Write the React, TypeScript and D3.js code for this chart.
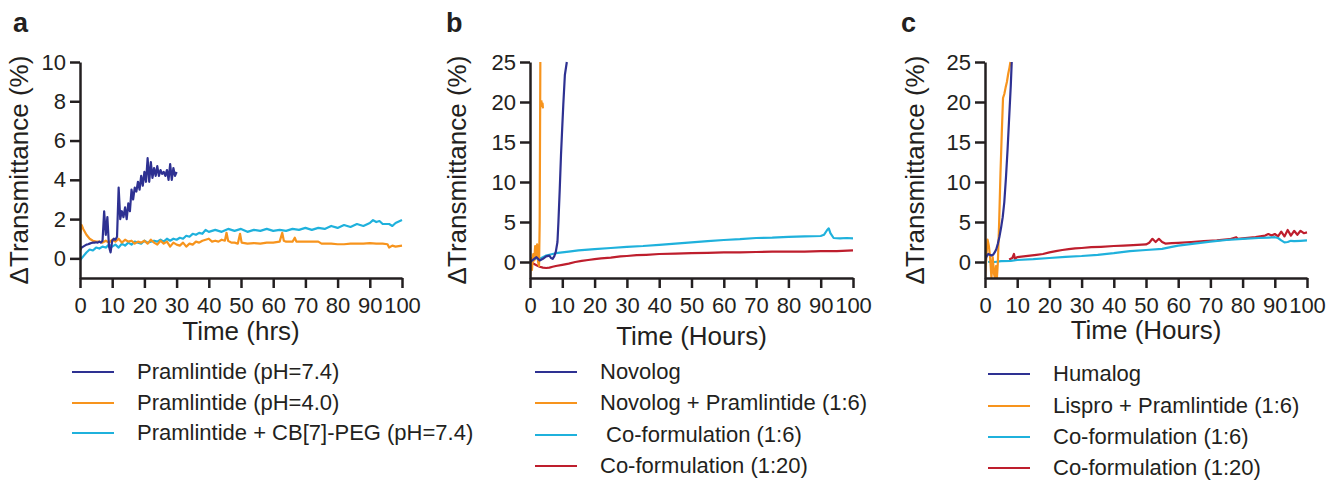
import React, { useRef, useEffect } from 'react';
import { select, scaleLinear, axisBottom, axisLeft, line } from 'd3';

const NAVY = '#2e3192';
const ORANGE = '#f7941d';
const CYAN = '#1fb1dc';
const RED = '#be1e2d';
const INK = '#231f20';

const timeTicks = [0, 10, 20, 30, 40, 50, 60, 70, 80, 90, 100];
const ticksA = [0, 2, 4, 6, 8, 10];
const ticksBC = [0, 5, 10, 15, 20, 25];

const legendA = ['Pramlintide (pH=7.4)', 'Pramlintide (pH=4.0)', 'Pramlintide + CB[7]-PEG (pH=7.4)'];
const legendB = ['Novolog', 'Novolog + Pramlintide (1:6)', ' Co-formulation (1:6)', 'Co-formulation (1:20)'];
const legendC = ['Humalog', 'Lispro + Pramlintide (1:6)', 'Co-formulation (1:6)', 'Co-formulation (1:20)'];

// panel a: [hours, delta transmittance %]
const pramA74 = [
  [0, 0.4], [0.5, 0.55], [1, 0.6], [1.5, 0.65], [2, 0.7], [2.5, 0.72], [3, 0.75], [3.5, 0.78], [4, 0.8], [4.5, 0.8],
  [5, 0.82], [5.5, 0.8], [6, 0.85], [6.5, 0.8], [7, 0.9], [7.5, 2.4], [8, 1.2], [8.5, 2.1], [9, 0.6], [9.5, 0.3],
  [10, 0.9], [10.5, 1.0], [11, 0.95], [11.5, 1.1], [12, 3.6], [12.5, 2.0], [13, 2.4], [13.5, 2.1], [14, 2.6], [14.5, 2.0],
  [15, 2.8], [15.5, 2.4], [16, 3.5], [16.5, 3.0], [17, 3.6], [17.5, 3.4], [18, 3.9], [18.5, 3.5], [19, 4.2], [19.5, 3.7],
  [20, 4.4], [20.5, 3.9], [21, 5.1], [21.5, 3.9], [22, 4.9], [22.5, 4.1], [23, 4.6], [23.5, 4.2], [24, 4.7], [24.5, 4.2],
  [25, 4.5], [25.5, 4.3], [26, 4.4], [26.5, 4.2], [27, 4.5], [27.5, 4.0], [28, 4.8], [28.5, 4.0], [29, 4.6], [29.5, 4.2], [30, 4.4],
];
const pramA40 = [
  [0, 1.2], [0.5, 1.7], [1, 1.5], [2, 1.2], [3, 1.0], [4, 0.9], [5, 0.85], [6, 0.85], [7, 0.8], [8, 0.9], [9, 0.8],
  [10, 0.95], [11, 0.85], [12, 1.0], [13, 0.8], [14, 0.95], [15, 0.85], [16, 0.9], [17, 0.75], [18, 0.85], [19, 0.8],
  [20, 0.9], [21, 0.75], [22, 0.95], [23, 0.8], [24, 0.7], [25, 0.9], [26, 0.75], [27, 0.85], [28, 0.6], [29, 0.8],
  [30, 0.7], [31, 0.65], [32, 0.8], [33, 0.6], [34, 0.75], [35, 0.7], [36, 0.85], [37, 0.8], [38, 0.9], [39, 0.95],
  [40, 1.0], [41, 0.85], [42, 0.9], [43, 0.85], [44, 0.95], [45, 0.9], [45.5, 1.3], [46, 0.9], [47, 0.8], [48, 0.8],
  [49, 0.75], [49.7, 1.25], [50.2, 0.8], [52, 0.75], [54, 0.78], [56, 0.75], [58, 0.8], [60, 0.8], [62, 0.85], [62.8, 1.3],
  [63.3, 0.9], [64, 0.85], [66, 0.85], [66.7, 1.05], [67.2, 0.85], [70, 0.85], [72, 0.85], [74, 0.85], [75, 0.75], [78, 0.75],
  [80, 0.72], [82, 0.72], [84, 0.75], [86, 0.75], [88, 0.75], [90, 0.78], [92, 0.75], [94, 0.75], [95.5, 0.72], [96, 0.55],
  [97, 0.65], [98, 0.6], [100, 0.65],
];
const pramCB7 = [
  [0, -0.1], [1, 0.1], [2, 0.3], [3, 0.45], [4, 0.4], [5, 0.55], [6, 0.5], [7, 0.6], [8, 0.55], [9, 0.7], [10, 0.6],
  [11, 0.7], [12, 0.55], [13, 0.75], [14, 0.65], [15, 0.8], [16, 0.7], [17, 0.85], [18, 0.8], [19, 0.75], [20, 0.9],
  [21, 0.8], [22, 0.85], [23, 0.9], [24, 0.85], [25, 0.95], [26, 0.85], [27, 1.0], [28, 0.9], [29, 1.0], [30, 0.95],
  [31, 1.05], [32, 1.0], [33, 1.15], [34, 1.1], [35, 1.25], [36, 1.2], [37, 1.3], [38, 1.25], [39, 1.45], [40, 1.35],
  [42, 1.45], [44, 1.35], [46, 1.5], [48, 1.4], [50, 1.5], [52, 1.35], [54, 1.45], [56, 1.4], [58, 1.5], [60, 1.4],
  [62, 1.45], [64, 1.4], [66, 1.5], [68, 1.45], [70, 1.55], [72, 1.45], [74, 1.55], [76, 1.5], [78, 1.65], [80, 1.55],
  [82, 1.7], [84, 1.6], [86, 1.75], [88, 1.65], [90, 1.8], [91, 1.95], [92, 1.85], [93, 1.9], [94, 1.75], [96, 1.75],
  [97, 1.65], [98, 1.8], [100, 1.95],
];

// panel b
const novolog = [
  [0, 0], [1, 0.3], [2, 0.6], [3, 0.2], [4, 0.4], [5, 0.7], [6, 0.8], [6.5, 0.5], [7, 0.4], [7.5, 0.7], [8, 1.3],
  [8.5, 2.5], [8.8, 5], [9.2, 9], [9.6, 13.4], [10, 17], [10.3, 19.6], [10.8, 23.4], [11.4, 25],
];
const novologPram = [
  [0, -2], [0.3, 0.5], [0.6, -1], [1, 1], [1.3, 0.2], [1.6, 2], [1.9, 0.5], [2.2, 2.2], [2.5, 0], [2.8, -0.5],
  [3.0, 5], [3.1, 15], [3.2, 25], [3.3, NaN], [3.5, 20.2], [3.7, 19.5], [3.9, 19.8], [4.0, 19.2],
];
const coformB6 = [
  [0, 0], [1, 0.2], [2, 0.5], [3, 0.4], [4, 0.6], [5, 0.8], [6, 0.9], [7, 1.0], [8, 1.1], [10, 1.2], [12, 1.3],
  [15, 1.45], [18, 1.55], [20, 1.6], [25, 1.75], [30, 1.9], [35, 2.0], [40, 2.15], [45, 2.3], [50, 2.45], [55, 2.6],
  [60, 2.75], [65, 2.85], [70, 3.0], [75, 3.05], [80, 3.15], [85, 3.2], [90, 3.25], [91, 3.4], [92, 4.0], [92.5, 4.2],
  [93, 3.6], [94, 3.0], [96, 2.95], [98, 3.0], [100, 2.95],
];
const coformB20 = [
  [0, 0], [1, -0.2], [2, -0.4], [3, -0.6], [4, -0.7], [5, -0.75], [6, -0.7], [7, -0.6], [8, -0.5], [10, -0.35],
  [12, -0.2], [14, 0], [16, 0.15], [18, 0.25], [20, 0.35], [22, 0.45], [25, 0.55], [28, 0.7], [30, 0.75], [33, 0.85],
  [36, 0.9], [40, 1.0], [45, 1.05], [50, 1.1], [55, 1.15], [60, 1.2], [65, 1.2], [70, 1.25], [75, 1.3], [80, 1.3],
  [85, 1.3], [90, 1.35], [95, 1.35], [100, 1.45],
];

// panel c
const humalog = [
  [0, 0.2], [0.5, 0.7], [1, 1.0], [1.5, 0.9], [2, 0.8], [2.5, 0.9], [3, 1.2], [3.5, 1.6], [4, 2.3], [4.5, 3.2],
  [5, 4.3], [5.5, 5.6], [6, 7.5], [6.5, 10.5], [7, 14], [7.5, 18], [8, 22], [8.3, 25],
];
const lisproPram = [
  [0, -2], [0.4, 0.5], [0.8, 2.8], [1.2, 2.0], [1.6, 0.5], [2.0, -2], [2.4, 0.6], [2.8, -1.5], [3.1, -2], [3.4, -0.5],
  [3.7, -2], [4.0, 0], [4.4, 5], [4.8, 11], [5.2, 16], [5.6, 20.5], [6.0, 21], [6.4, 21.8], [6.8, 22.5], [7.2, 23.5],
  [7.6, 24.3], [7.9, 25],
];
const coformC6 = [
  [1, 0], [2, 0.05], [3, 0], [5, 0.1], [8, 0.15], [10, 0.25], [15, 0.35], [20, 0.5], [25, 0.65], [30, 0.75],
  [35, 0.9], [40, 1.1], [45, 1.35], [50, 1.5], [55, 1.65], [58, 1.9], [60, 2.05], [65, 2.3], [70, 2.55], [75, 2.75],
  [80, 2.9], [85, 3.0], [88, 3.05], [90, 3.1], [91, 3.0], [92, 2.7], [93, 2.45], [94, 2.5], [95, 2.65], [96, 2.6],
  [98, 2.65], [100, 2.7],
];
const coformC20 = [
  [7.5, 0.3], [8.5, 0.5], [9, 1.0], [9.3, 0.4], [10, 0.6], [12, 0.7], [14, 0.8], [16, 0.9], [18, 1.0], [20, 1.2],
  [22, 1.35], [24, 1.5], [26, 1.6], [28, 1.7], [30, 1.75], [33, 1.85], [36, 1.9], [40, 2.0], [43, 2.05], [46, 2.1],
  [50, 2.2], [51, 2.4], [52, 2.9], [53, 2.5], [54, 2.9], [55, 2.5], [56, 2.3], [58, 2.35], [60, 2.4], [64, 2.5],
  [68, 2.6], [72, 2.7], [76, 2.85], [78, 3.1], [78.5, 2.9], [80, 2.95], [84, 3.1], [87, 3.3], [88, 3.5], [89, 3.3],
  [90, 3.5], [91, 3.2], [92, 3.8], [93, 3.2], [94, 4.0], [95, 3.3], [96, 3.9], [97, 3.4], [98, 3.9], [99, 3.6], [100, 3.7],
];

const FONT = '"Liberation Sans", Arial, Helvetica, sans-serif';

type Series = { data: number[][]; color: string };

type PanelProps = {
  id: string;
  letter: string;
  letterX: number;
  left: number;
  right: number;
  top: number;
  bottom: number;
  yDomain: [number, number];
  yTicks: number[];
  xTitle: string;
  xTitleY: number;
  yTitleX: number;
  series: Series[];
  legend: string[];
  legendX: number;
  legendTextX: number;
  legendY: number[];
};

function Panel(p: PanelProps) {
  const gRef = useRef<SVGGElement>(null);

  useEffect(() => {
    const g = select(gRef.current);
    g.selectAll('*').remove();

    const x = scaleLinear().domain([0, 100]).range([p.left, p.right]);
    const y = scaleLinear().domain(p.yDomain).range([p.bottom, p.top]);

    g.append('clipPath')
      .attr('id', 'clip-' + p.id)
      .append('rect')
      .attr('x', p.left)
      .attr('y', p.top - 1)
      .attr('width', p.right - p.left + 2)
      .attr('height', p.bottom - p.top + 1);

    const pathGen = line<number[]>()
      .defined((d) => !isNaN(d[1]))
      .x((d) => x(d[0]))
      .y((d) => y(d[1]));

    // last legend entry drawn first, first one ends on top
    g.append('g')
      .attr('clip-path', `url(#clip-${p.id})`)
      .selectAll('path')
      .data(p.series.slice().reverse())
      .join('path')
      .attr('d', (s) => pathGen(s.data))
      .attr('fill', 'none')
      .attr('stroke', (s) => s.color)
      .attr('stroke-width', 2.2)
      .attr('stroke-linejoin', 'round');

    const yAxis = axisLeft(y).tickValues(p.yTicks).tickSize(10).tickPadding(4).tickSizeOuter(0);
    const xAxis = axisBottom(x).tickValues(timeTicks).tickSize(10).tickPadding(9).tickSizeOuter(0);

    const ya = g.append('g').attr('transform', `translate(${p.left},0)`).call(yAxis);
    const xa = g.append('g').attr('transform', `translate(0,${p.bottom})`).call(xAxis);

    [ya, xa].forEach((a) => {
      a.select('.domain').attr('stroke', INK).attr('stroke-width', 2.5);
      a.selectAll('.tick line').attr('stroke', INK).attr('stroke-width', 2.5);
      a.selectAll('.tick text').attr('fill', INK).attr('font-size', 22).attr('font-family', FONT);
    });

    // axis titles
    g.append('text')
      .attr('x', (p.left + p.right) / 2)
      .attr('y', p.xTitleY)
      .attr('text-anchor', 'middle')
      .attr('font-size', 26)
      .attr('font-family', FONT)
      .attr('fill', INK)
      .text(p.xTitle);

    g.append('text')
      .attr('transform', `translate(${p.yTitleX},${(p.top + p.bottom) / 2}) rotate(-90)`)
      .attr('text-anchor', 'middle')
      .attr('font-size', 26)
      .attr('font-family', FONT)
      .attr('fill', INK)
      .text('\u0394Transmittance (%)');

    // panel letter
    g.append('text')
      .attr('x', p.letterX)
      .attr('y', 32)
      .attr('font-size', 27)
      .attr('font-weight', 'bold')
      .attr('font-family', FONT)
      .attr('fill', INK)
      .text(p.letter);

    // legend
    const leg = g.append('g');
    p.legend.forEach((label, i) => {
      const ly = p.legendY[i];
      leg.append('line')
        .attr('x1', p.legendX)
        .attr('x2', p.legendX + 42)
        .attr('y1', ly)
        .attr('y2', ly)
        .attr('stroke', p.series[i].color)
        .attr('stroke-width', 2);
      leg.append('text')
        .attr('x', p.legendTextX)
        .attr('y', ly + 7)
        .attr('font-size', 22)
        .attr('font-family', FONT)
        .attr('fill', INK)
        .style('white-space', 'pre')
        .text(label);
    });
  }, []);

  return <g ref={gRef} />;
}

export default function App() {
  return (
    <svg
      width={1328}
      height={483}
      style={{ position: 'absolute', left: 0, top: 0, background: '#fff' }}
    >
      <rect width={1328} height={483} fill="#fff" />
      <Panel
        id="a"
        letter="a"
        letterX={13}
        left={80}
        right={402}
        top={62}
        bottom={278}
        yDomain={[-1, 10]}
        yTicks={ticksA}
        xTitle="Time (hrs)"
        xTitleY={340}
        yTitleX={28}
        series={[
          { data: pramA74, color: NAVY },
          { data: pramA40, color: ORANGE },
          { data: pramCB7, color: CYAN },
        ]}
        legend={legendA}
        legendX={72}
        legendTextX={137}
        legendY={[372, 403, 433]}
      />
      <Panel
        id="b"
        letter="b"
        letterX={446}
        left={530}
        right={853}
        top={62}
        bottom={278}
        yDomain={[-2, 25]}
        yTicks={ticksBC}
        xTitle="Time (Hours)"
        xTitleY={345}
        yTitleX={466}
        series={[
          { data: novolog, color: NAVY },
          { data: novologPram, color: ORANGE },
          { data: coformB6, color: CYAN },
          { data: coformB20, color: RED },
        ]}
        legend={legendB}
        legendX={535}
        legendTextX={600}
        legendY={[372, 403, 435, 466]}
      />
      <Panel
        id="c"
        letter="c"
        letterX={901}
        left={985}
        right={1307}
        top={62}
        bottom={278}
        yDomain={[-2, 25]}
        yTicks={ticksBC}
        xTitle="Time (Hours)"
        xTitleY={339}
        yTitleX={924}
        series={[
          { data: humalog, color: NAVY },
          { data: lisproPram, color: ORANGE },
          { data: coformC6, color: CYAN },
          { data: coformC20, color: RED },
        ]}
        legend={legendC}
        legendX={988}
        legendTextX={1053}
        legendY={[374, 406, 437, 468]}
      />
    </svg>
  );
}
